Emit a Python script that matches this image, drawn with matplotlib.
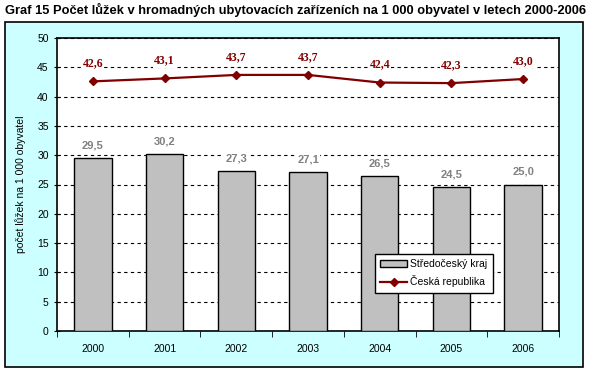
import matplotlib.pyplot as plt
import numpy as np
from matplotlib.patches import Rectangle

years = ['2000', '2001', '2002', '2003', '2004', '2005', '2006']
kraj = [29.5, 30.2, 27.3, 27.1, 26.5, 24.5, 25.0]
cr = [42.6, 43.1, 43.7, 43.7, 42.4, 42.3, 43.0]

plt.rcParams['font.family'] = ['Liberation Sans', 'DejaVu Sans']

W, H = 605, 375
fig = plt.figure(figsize=(W / 100, H / 100), dpi=100)
fig.patch.set_facecolor('white')

# chart area (light cyan box)
fig.patches.append(Rectangle((5 / W, 1 - 367 / H), 578 / W, 345 / H,
                             transform=fig.transFigure, facecolor='#CCFFFF',
                             edgecolor='black', linewidth=1.2, zorder=-1))

ax = fig.add_axes([57 / W, 1 - 331 / H, 502 / W, 293 / H])
ax.set_facecolor('white')

x = np.arange(len(years))
bars = ax.bar(x, kraj, width=0.52, color='#C0C0C0', edgecolor='black', linewidth=1.0,
              zorder=3, label='Středočeský kraj')
line, = ax.plot(x, cr, color='#800000', linewidth=1.6, marker='D', markersize=4,
                zorder=4, label='Česká republika')

for xi, v in zip(x, kraj):
    ax.annotate(f'{v:.1f}'.replace('.', ','), (xi, v), xytext=(0, 9),
                textcoords='offset points', ha='center', va='center',
                fontsize=8, fontweight='bold', color='#808080', zorder=5,
                bbox=dict(boxstyle='square,pad=0.1', fc='white', ec='none'))
for xi, v in zip(x, cr):
    ax.annotate(f'{v:.1f}'.replace('.', ','), (xi, v), xytext=(0, 13),
                textcoords='offset points', ha='center', va='center',
                fontsize=8.5, fontweight='bold', color='#800000',
                family='Liberation Serif', zorder=5,
                bbox=dict(boxstyle='square,pad=0.1', fc='white', ec='none'))

ax.set_xlim(-0.5, len(years) - 0.5)
ax.set_ylim(0, 50)
ax.set_yticks(np.arange(0, 51, 5))
ax.yaxis.grid(True, linestyle=(0, (3, 3)), color='black', linewidth=0.8)
ax.set_axisbelow(True)

ax.set_xticks(x)
ax.set_xticklabels(years)
ax.set_xticks(np.arange(-0.5, len(years), 1), minor=True)
ax.tick_params(axis='x', which='major', length=0, pad=9, labelsize=7.5)
ax.tick_params(axis='x', which='minor', length=4, direction='out')
ax.tick_params(axis='y', length=4, direction='inout', labelsize=7.5, pad=4)

for s in ax.spines.values():
    s.set_linewidth(1.2)
    s.set_color('black')

ax.set_ylabel('počet lůžek na 1 000 obyvatel', fontsize=7.5, labelpad=8)

leg = ax.legend([bars, line], ['Středočeský kraj', 'Česká republika'],
                loc='upper left', bbox_to_anchor=((375 - 57) / 502, (331 - 254) / 293),
                borderaxespad=0, fontsize=7.5, frameon=True, fancybox=False,
                edgecolor='black', framealpha=1, borderpad=0.5, handlelength=2.6,
                handletextpad=0.3, labelspacing=0.6)
leg.get_frame().set_linewidth(1.0)

fig.text(5 / W, 1 - 10 / H, 'Graf 15 Počet lůžek v hromadných ubytovacích zařízeních na 1 000 obyvatel v letech 2000-2006',
         fontsize=9.3, fontweight='bold', ha='left', va='center')

fig.savefig('out.png', dpi=100)
